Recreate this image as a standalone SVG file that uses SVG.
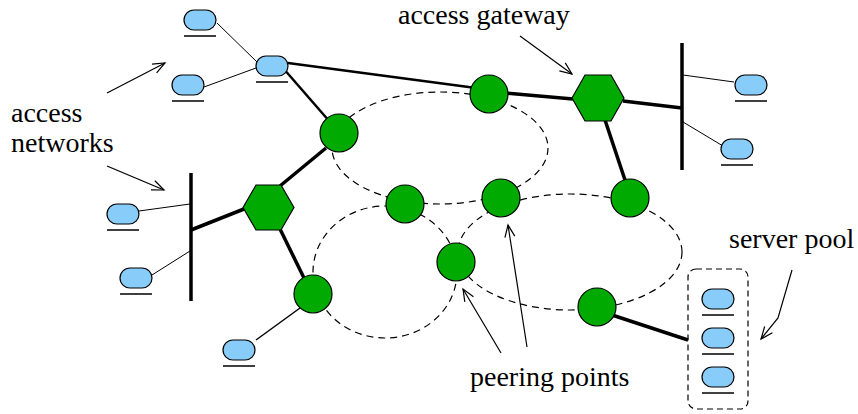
<svg xmlns="http://www.w3.org/2000/svg" width="858" height="414" viewBox="0 0 858 414">
<style>
.thin{stroke:#000;stroke-width:1;fill:none}
.thick{stroke:#000;stroke-width:3.5;fill:none}
.mid{stroke:#000;stroke-width:2.5;fill:none}
.dash{stroke:#000;stroke-width:1.2;fill:none;stroke-dasharray:7,5}
.arr{stroke:#000;stroke-width:1.2;fill:none;marker-end:url(#ah)}
.pp{fill:#00aa00;stroke:#000;stroke-width:1.2}
.gw{fill:#00aa00;stroke:#000;stroke-width:1.2}
.cl{fill:#88ccfa;stroke:#000;stroke-width:1.2}
.ul{stroke:#000;stroke-width:1.5}
text{font-family:"Liberation Serif","Times New Roman",serif;font-size:28px;fill:#000}
</style>
<defs>
<marker id="ah" viewBox="-13 -6 15 12" refX="0" refY="0" markerWidth="15" markerHeight="12" markerUnits="userSpaceOnUse" orient="auto">
<path d="M-12,-5 L0,0 L-12,5" fill="none" stroke="#000" stroke-width="1.2"/>
</marker>
<g id="client">
<rect x="0" y="0" width="32" height="20" rx="10" class="cl"/>
<line x1="0" y1="26" x2="32" y2="26" class="ul"/>
</g>
</defs>

<g id="rings">
<ellipse cx="440" cy="148" rx="108" ry="56" class="dash"/>
<ellipse cx="385" cy="272" rx="72" ry="66" class="dash"/>
<ellipse cx="570" cy="252" rx="112" ry="58" class="dash"/>
</g>

<g id="connectors">
<line x1="217" y1="23" x2="257" y2="62" class="thin"/>
<line x1="204" y1="87" x2="256" y2="68" class="thin"/>
<line x1="288" y1="63" x2="476" y2="88" class="mid"/>
<line x1="283" y1="68" x2="330" y2="122" class="mid"/>
<line x1="505" y1="93" x2="573" y2="99" class="thick"/>
<line x1="623" y1="101" x2="682" y2="108" class="thick"/>
<line x1="682" y1="43" x2="682" y2="170" class="thick"/>
<line x1="683" y1="75" x2="734" y2="82" class="thin"/>
<line x1="683" y1="122" x2="723" y2="146" class="thin"/>
<line x1="605" y1="120" x2="625" y2="180" class="thick"/>
<line x1="191" y1="173" x2="191" y2="301" class="thick"/>
<line x1="191" y1="230" x2="244" y2="209" class="thick"/>
<line x1="139" y1="211" x2="190" y2="204" class="thin"/>
<line x1="152" y1="275" x2="190" y2="251" class="thin"/>
<line x1="280" y1="186" x2="326" y2="148" class="thick"/>
<line x1="280" y1="229" x2="304" y2="278" class="thick"/>
<line x1="256" y1="340" x2="300" y2="308" class="thin" style="stroke-width:1.4"/>
<line x1="612" y1="315" x2="688" y2="340" class="thick"/>
</g>

<g id="gateway-top"><polygon points="572,98 585,75 611,75 624,98 611,121 585,121" class="gw"/></g>
<g id="gateway-left"><polygon points="243,207.5 256,185 281,185 294,207.5 281,230 256,230" class="gw"/></g>

<g id="peer1"><circle cx="339" cy="133" r="19" class="pp"/></g>
<g id="peer2"><circle cx="489" cy="94" r="19" class="pp"/></g>
<g id="peer3"><circle cx="405" cy="204" r="19" class="pp"/></g>
<g id="peer4"><circle cx="501" cy="198" r="19" class="pp"/></g>
<g id="peer5"><circle cx="456" cy="262" r="19" class="pp"/></g>
<g id="peer6"><circle cx="630" cy="198" r="19" class="pp"/></g>
<g id="peer7"><circle cx="313" cy="294" r="19" class="pp"/></g>
<g id="peer8"><circle cx="597" cy="307" r="19" class="pp"/></g>

<g id="client-a"><use href="#client" x="184" y="10"/></g>
<g id="client-b"><use href="#client" x="172" y="75"/></g>
<g id="client-hub"><use href="#client" x="256" y="56"/></g>
<g id="client-d"><use href="#client" x="735" y="75"/></g>
<g id="client-e"><use href="#client" x="721" y="139"/></g>
<g id="client-f"><use href="#client" x="107" y="204"/></g>
<g id="client-g"><use href="#client" x="120" y="268"/></g>
<g id="client-h"><use href="#client" x="223" y="340"/></g>

<g id="server-pool">
<rect x="688" y="269" width="60" height="140" rx="8" class="dash" style="stroke-dasharray:6,4"/>
<use href="#client" x="702" y="289"/>
<use href="#client" x="702" y="328"/>
<use href="#client" x="702" y="367"/>
</g>

<g id="labels">
<text x="398" y="24">access gateway</text>
<text x="11" y="122">access</text>
<text x="11" y="152">networks</text>
<text x="470" y="386">peering points</text>
<text x="729" y="248">server pool</text>
</g>

<g id="label-arrows">
<line x1="107" y1="93" x2="165" y2="63" class="arr"/>
<line x1="107" y1="166" x2="164" y2="190" class="arr"/>
<line x1="520" y1="36" x2="572" y2="74" class="arr"/>
<line x1="501" y1="353" x2="463" y2="289" class="arr"/>
<line x1="527" y1="347" x2="508" y2="225" class="arr"/>
<polyline points="792,270 778,318 761,339" class="arr"/>
</g>
</svg>
